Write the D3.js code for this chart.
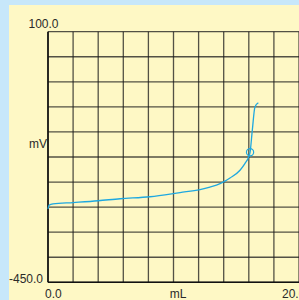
<!DOCTYPE html>
<html><head><meta charset="utf-8">
<script src="https://cdn.jsdelivr.net/npm/d3@7"></script>
<style>html,body{margin:0;padding:0;background:#c7e7fa;}svg{display:block;}</style>
</head><body>
<script>
const volume = [0, 0.08, 0.4, 2, 4, 5.74, 8.13, 10.52, 12.11, 12.9, 13.71, 14.1, 14.5, 15.3, 15.7, 15.99, 16.1, 16.28, 16.49, 16.76];
const potential = [-289, -281, -278, -275, -271, -266.6, -262.2, -253, -246.5, -241, -233.5, -228, -221, -204, -189, -175, -165, -116, -65, -56];
const endpointVolume = [16.1];
const endpointPotential = [-164.7];
const xGridTicks = [0, 2, 4, 6, 8, 10, 12, 14, 16, 18, 20];
const yGridTicks = [100, 45, -10, -65, -120, -175, -230, -285, -340, -395, -450];
const xTickLabels = [{v: 0, t: "0.0"}, {v: 20, t: "20.0"}];
const yTickLabels = [{v: 100, t: "100.0"}, {v: -450, t: "-450.0"}];
const xTitle = "mL", yTitle = "mV";

const W = 299, H = 300;
const svg = d3.select("body").append("svg").attr("width", W).attr("height", H);
svg.append("rect").attr("x", 0).attr("y", 0).attr("width", W).attr("height", H).attr("fill", "#c7e7fa");
svg.append("rect").attr("x", 9).attr("y", 5).attr("width", W - 9).attr("height", H - 5).attr("fill", "#fef8c5");

const x = d3.scaleLinear().domain([0, 20]).range([48, 299]);
const y = d3.scaleLinear().domain([-450, 100]).range([282.3, 31.7]);

const g = svg.append("g");
g.selectAll("line.v").data(xGridTicks).join("line")
  .attr("x1", d => x(d)).attr("x2", d => x(d))
  .attr("y1", y(100)).attr("y2", y(-450))
  .attr("stroke", "#1a1a1a").attr("stroke-opacity", 0.75).attr("stroke-width", 1.3);
g.selectAll("line.h").data(yGridTicks).join("line")
  .attr("y1", d => y(d)).attr("y2", d => y(d))
  .attr("x1", x(0)).attr("x2", x(20))
  .attr("stroke", "#1a1a1a").attr("stroke-opacity", 0.75).attr("stroke-width", 1.3);
g.append("line").attr("x1", x(0)).attr("x2", x(0)).attr("y1", y(100)).attr("y2", y(-450)).attr("stroke", "#111").attr("stroke-width", 1.6);
g.append("line").attr("x1", x(0)).attr("x2", x(20)).attr("y1", y(-450)).attr("y2", y(-450)).attr("stroke", "#111").attr("stroke-width", 1.6);

const pts = volume.map((v, i) => [v, potential[i]]);
const line = d3.line().x(d => x(d[0])).y(d => y(d[1])).curve(d3.curveMonotoneX);
svg.append("path").attr("d", line(pts)).attr("fill", "none").attr("stroke", "#1ea8e0").attr("stroke-width", 1.3);
svg.selectAll("circle.ep").data(endpointVolume).join("circle")
  .attr("cx", (d) => x(d)).attr("cy", (d, i) => y(endpointPotential[i])).attr("r", 3.6)
  .attr("fill", "none").attr("stroke", "#1ea8e0").attr("stroke-width", 1.2);

const font = "Liberation Sans, Arial, sans-serif";
const txt = (s, xx, yy, anchor) => svg.append("text").text(s).attr("x", xx).attr("y", yy)
  .attr("text-anchor", anchor).attr("font-family", font).attr("font-size", 12).attr("fill", "#2a2a2a");
txt(yTickLabels[0].t, x(0) - 19.5, y(yTickLabels[0].v) - 3.5, "start");
txt(yTickLabels[1].t, x(0) - 5, y(yTickLabels[1].v) + 1, "end");
txt(xTickLabels[0].t, x(xTickLabels[0].v) - 3, 298, "start");
txt(xTickLabels[1].t, x(xTickLabels[1].v) - 17, 298, "start");
txt(xTitle, 178, 298, "middle");
txt(yTitle, x(0) - 1, 148, "end");
</script>
</body></html>
